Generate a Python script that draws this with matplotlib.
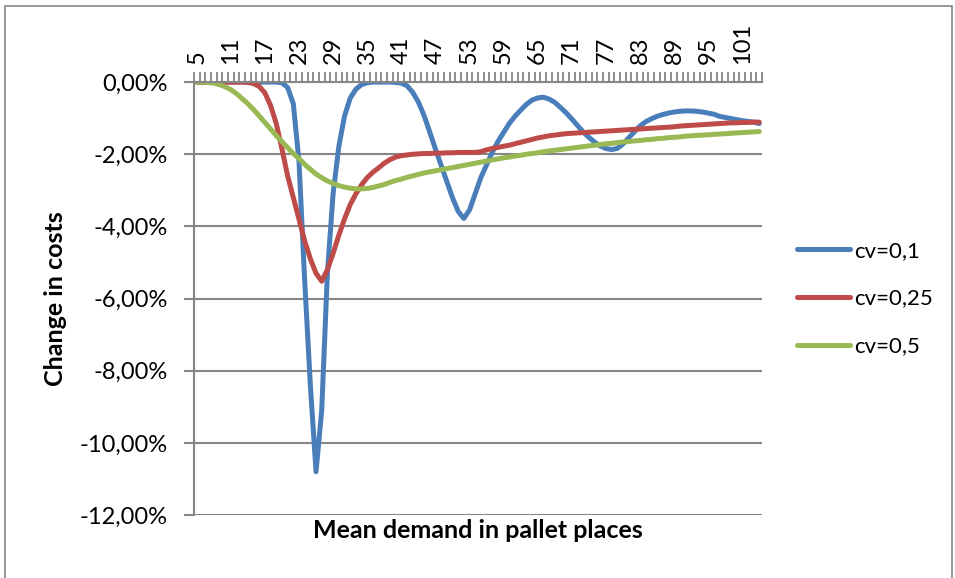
import matplotlib
matplotlib.use("Agg")
import matplotlib.pyplot as plt
from matplotlib.patches import Rectangle

plt.rcParams['font.family'] = ['Lato', 'DejaVu Sans']

# mean demand in pallet places (categories 5..104)
demand = list(range(5, 105))

# change in costs, in percent
cv_01 = [0, 0, 0, 0, 0, 0, 0, 0, 0, 0,            # 5-14
         0, 0, 0, 0, 0, -0.02, -0.15, -0.6, -2.2, -5.5,  # 15-24
         -8.4, -10.8, -9.1, -5.3, -3.1, -1.8, -0.95, -0.45, -0.2, -0.07,  # 25-34
         -0.02, 0, 0, 0, 0, -0.01, -0.03, -0.1, -0.28, -0.55,  # 35-44
         -0.92, -1.38, -1.85, -2.3, -2.75, -3.2, -3.58, -3.78, -3.55, -3.1,  # 45-54
         -2.65, -2.3, -1.95, -1.65, -1.4, -1.15, -0.95, -0.78, -0.62, -0.5,  # 55-64
         -0.44, -0.42, -0.47, -0.56, -0.7, -0.85, -1.02, -1.2, -1.38, -1.53,  # 65-74
         -1.66, -1.77, -1.84, -1.87, -1.84, -1.72, -1.55, -1.38, -1.22, -1.1,  # 75-84
         -1.02, -0.95, -0.9, -0.86, -0.83, -0.81, -0.8, -0.8, -0.81, -0.83,  # 85-94
         -0.86, -0.89, -0.95, -0.98, -1.01, -1.04, -1.07, -1.09, -1.11, -1.15]  # 95-104

cv_025 = [0, 0, 0, 0, 0, 0, 0, 0, 0, -0.01,       # 5-14
          -0.04, -0.12, -0.3, -0.65, -1.15, -1.85, -2.6, -3.2, -3.8, -4.4,  # 15-24
          -4.9, -5.3, -5.52, -5.2, -4.75, -4.25, -3.8, -3.4, -3.1, -2.85,  # 25-34
          -2.65, -2.5, -2.38, -2.25, -2.15, -2.08, -2.04, -2.02, -2.0, -1.99,  # 35-44
          -1.98, -1.98, -1.97, -1.97, -1.96, -1.96, -1.95, -1.95, -1.95, -1.95,  # 45-54
          -1.93, -1.88, -1.84, -1.81, -1.78, -1.75, -1.71, -1.67, -1.63, -1.59,  # 55-64
          -1.55, -1.52, -1.49, -1.47, -1.45, -1.43, -1.42, -1.41, -1.4, -1.39,  # 65-74
          -1.38, -1.37, -1.36, -1.35, -1.34, -1.33, -1.32, -1.31, -1.3, -1.29,  # 75-84
          -1.28, -1.27, -1.26, -1.25, -1.24, -1.22, -1.21, -1.2, -1.19, -1.18,  # 85-94
          -1.17, -1.16, -1.15, -1.14, -1.13, -1.13, -1.12, -1.12, -1.11, -1.11]  # 95-104

cv_05 = [0, 0, -0.01, -0.03, -0.07, -0.13, -0.21, -0.32, -0.46, -0.6,  # 5-14
         -0.76, -0.94, -1.12, -1.3, -1.48, -1.65, -1.82, -1.98, -2.12, -2.28,  # 15-24
         -2.42, -2.55, -2.65, -2.74, -2.81, -2.87, -2.91, -2.94, -2.96, -2.96,  # 25-34
         -2.95, -2.92, -2.88, -2.84, -2.78, -2.73, -2.69, -2.64, -2.6, -2.56,  # 35-44
         -2.52, -2.49, -2.46, -2.43, -2.4, -2.37, -2.34, -2.31, -2.28, -2.25,  # 45-54
         -2.22, -2.19, -2.16, -2.13, -2.1, -2.08, -2.05, -2.03, -2.0, -1.98,  # 55-64
         -1.96, -1.93, -1.91, -1.89, -1.87, -1.85, -1.83, -1.81, -1.79, -1.77,  # 65-74
         -1.75, -1.73, -1.71, -1.7, -1.68, -1.66, -1.65, -1.63, -1.62, -1.6,  # 75-84
         -1.59, -1.57, -1.56, -1.54, -1.53, -1.52, -1.5, -1.49, -1.48, -1.47,  # 85-94
         -1.46, -1.45, -1.44, -1.43, -1.42, -1.41, -1.4, -1.39, -1.38, -1.37]  # 95-104

series = [('cv=0,1', cv_01, '#4a7ebb'),
          ('cv=0,25', cv_025, '#be4b48'),
          ('cv=0,5', cv_05, '#98b954')]

grey = '#868686'

fig = plt.figure(figsize=(9.55, 5.78), dpi=100)
ax = fig.add_axes([0.203, 0.109, 0.595, 0.749])

x = list(range(len(demand)))
for name, vals, col in series:
    ax.plot(x, vals, color=col, lw=3.6, label=name, solid_capstyle='round', solid_joinstyle='round')

ax.set_xlim(-0.5, len(demand) - 0.5)
ax.set_ylim(-12, 0)

# x axis on top, labels every 6th category
ax.xaxis.tick_top()
ax.set_xticks(x[::6])
ax.set_xticklabels([str(d) for d in demand[::6]], rotation=90, fontsize=17)
ax.set_xticks([i - 0.5 for i in range(len(demand) + 1)], minor=True)
ax.tick_params(axis='x', which='major', length=0, pad=13)
ax.tick_params(axis='x', which='minor', length=7, width=1.3, color=grey, top=True, bottom=False)

yt = list(range(-12, 1, 2))
ax.set_yticks(yt)
ax.set_yticklabels([('%.2f%%' % v).replace('.', ',') for v in yt], fontsize=17)
ax.tick_params(axis='y', length=7, width=1.5, color=grey, pad=12)
ax.grid(axis='y', color=grey, lw=1.5)
ax.set_axisbelow(True)

for s in ['right', 'bottom']:
    ax.spines[s].set_visible(False)
ax.spines['left'].set_color(grey)
ax.spines['left'].set_linewidth(1.5)
ax.spines['top'].set_color(grey)
ax.spines['top'].set_linewidth(1.5)

ax.set_ylabel('Change in costs', fontsize=18, fontweight='bold', labelpad=9)
ax.xaxis.set_label_position('bottom')
ax.set_xlabel('Mean demand in pallet places', fontsize=18, fontweight='bold', labelpad=3)

ax.legend(loc='center left', bbox_to_anchor=(1.045, 0.5), frameon=False, fontsize=16,
          handlelength=2.4, handletextpad=0.2, labelspacing=1.25, borderaxespad=0)

fig.patches.append(Rectangle((0.005, -0.1), 0.992, 1.09, transform=fig.transFigure,
                             fill=False, edgecolor=grey, lw=1.2))

fig.savefig('out.png', dpi=100)
